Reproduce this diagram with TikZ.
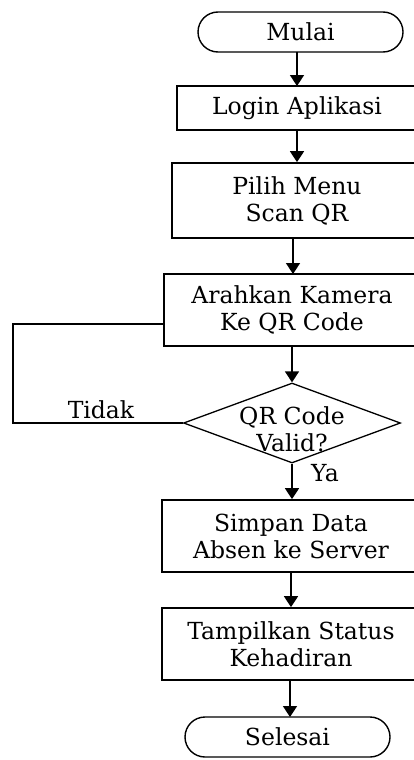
\documentclass[tikz,border=0pt]{standalone}
\usepackage{fontspec}
\setmainfont{DejaVu Serif}
\usetikzlibrary{arrows.meta,shapes.misc,shapes.geometric}

\tikzset{
  txt/.style={font=\fontsize{23.5}{27}\selectfont, align=center},
  terminal/.style={txt, draw, line width=1.4pt, rounded rectangle, inner sep=0pt},
  process/.style={txt, draw, line width=1.7pt, rectangle, inner sep=0pt},
  decision/.style={draw, line width=1.3pt, diamond, inner sep=0pt},
  flow/.style={line width=1.6pt, -{Triangle[width=14pt,length=11pt]}},
  loop/.style={line width=1.6pt},
}

\begin{document}
\begin{tikzpicture}[x=1pt, y=-1pt]
  \useasboundingbox (0,0) rectangle (414,760);
  \fill[white] (0,0) rectangle (414,760);
  \clip (0,0) rectangle (414,760);

  % start / end
  \node[terminal, minimum width=205pt, minimum height=40pt] (mulai) at (300.5,32) {Mulai};
  \node[terminal, minimum width=205pt, minimum height=40pt] (selesai) at (287.5,737) {Selesai};

  % process steps (right sides run past the page edge)
  \node[process, minimum width=240pt, minimum height=44pt] (login) at (297,108) {Login Aplikasi};
  \node[process, minimum width=250pt, minimum height=75pt] (pilih) at (297,200.5) {Pilih Menu\\Scan QR};
  \node[process, minimum width=256pt, minimum height=72pt] (arah) at (292,310) {Arahkan Kamera\\Ke QR Code};
  \node[process, minimum width=258pt, minimum height=72pt] (simpan) at (291,536) {Simpan Data\\Absen ke Server};
  \node[process, minimum width=258pt, minimum height=72pt] (tampil) at (291,644) {Tampilkan Status\\Kehadiran};

  % decision
  \node[decision, minimum width=217pt, minimum height=80pt,
        label={[txt, yshift=-6pt]center:QR Code\\Valid?}] (cek) at (292,423) {};

  % main flow
  \draw[flow] (297,52) -- (297,86);
  \draw[flow] (login.south) -- (login.south |- pilih.north);
  \draw[flow] (293,238) -- (293,274);
  \draw[flow] (arah.south -| cek.north) -- (cek.north);
  \draw[flow] (cek.south) -- (cek.south |- simpan.north);
  \draw[flow] (simpan.south) -- (tampil.north);
  \draw[flow] (290,680) -- (290,717);

  % "Tidak" branch back to the camera step
  \coordinate (fb) at (13,324);
  \draw[loop] (cek.west) -| (fb) -- (fb -| arah.west);

  \node[txt] (tidak) at (101,410) {Tidak};
  \node[txt] (ya) at (325,473) {Ya};
\end{tikzpicture}
\end{document}
